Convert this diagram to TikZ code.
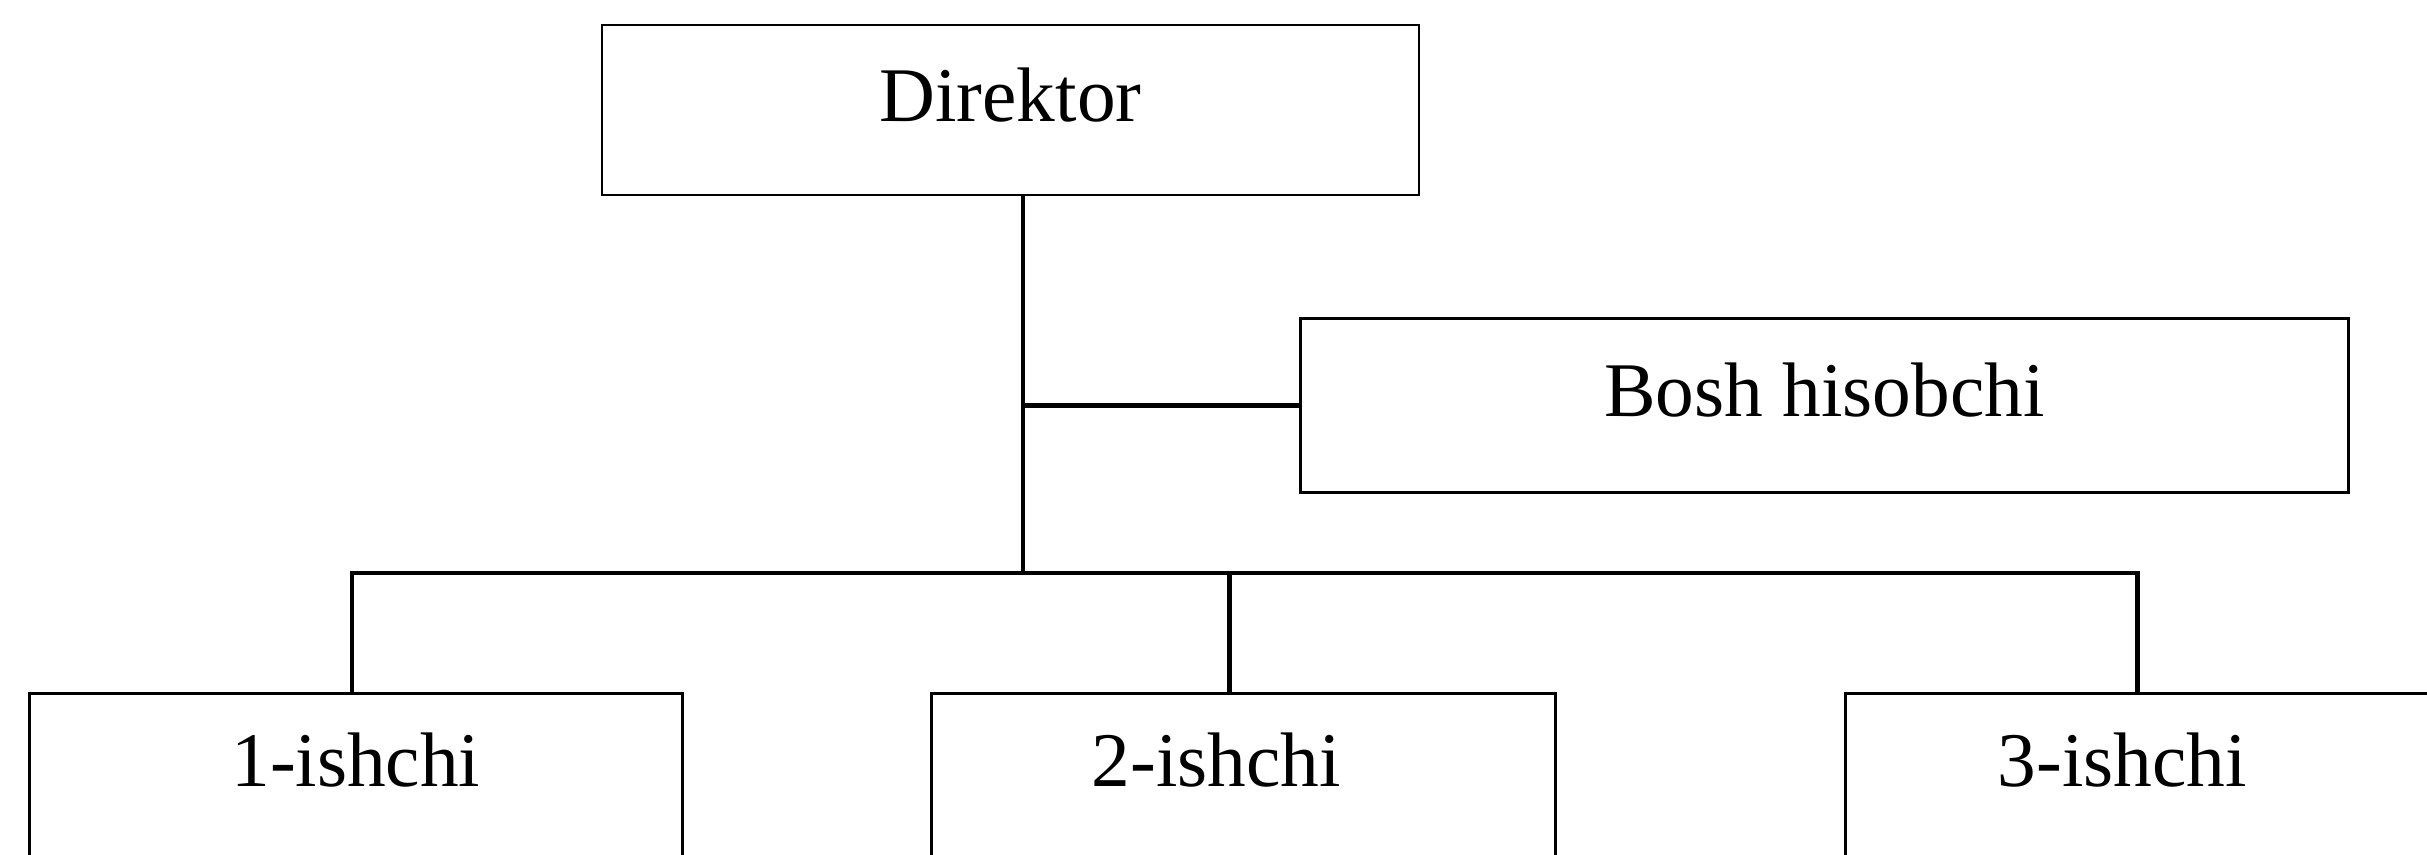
\documentclass[tikz,border=0pt]{standalone}
\usepackage{fontspec}
\setmainfont{Liberation Serif}
\usetikzlibrary{positioning}

\begin{document}
\begin{tikzpicture}[
  font=\fontsize{22}{26}\selectfont,
  every node/.style={align=center},
  boss/.style   ={rectangle, draw=black, line width=0.8pt, inner ysep=0pt,
                  minimum width=81.7mm, text height=9.6mm, text depth=7.4mm},
  acct/.style   ={rectangle, draw=black, line width=0.8pt, inner ysep=0pt,
                  minimum width=104.8mm, text height=9.8mm, text depth=7.6mm},
  worker/.style ={rectangle, draw=black, line width=0.8pt, inner ysep=0pt,
                  text height=9.3mm, text depth=12mm},
  link/.style   ={draw=black, line width=1.2pt},
]
\useasboundingbox (0,0) rectangle (24.27,-8.54);
\clip (0,0) rectangle (24.27,-8.54);

% --- Rahbar ---
\node[boss] (dir) at (10.105,-1.10) {Direktor};

% --- Bosh hisobchi ---
\node[acct, anchor=north west] (bosh) at (12.99,-3.17) {Bosh hisobchi};

% --- Ishchilar ---
\node[worker, minimum width=65.3mm, anchor=north west] (w1) at (0.28,-6.92) {1-ishchi};
\node[worker, minimum width=62.4mm, anchor=north west] (w2) at (9.30,-6.92) {2-ishchi\hspace*{5.4mm}};
\node[worker, minimum width=59.0mm, anchor=north west] (w3) at (18.44,-6.92) {3-ishchi\hspace*{3.6mm}};

% --- Bog'lanishlar ---
\coordinate (trunk) at ([xshift=1.25mm]dir.south);
\coordinate (hub)   at (trunk |- 0,-5.73);
\coordinate (d1)    at ([xshift=-0.4mm]w1.north);
\coordinate (d2)    at ([xshift=-1.4mm]w2.north);
\coordinate (d3)    at ([xshift=-0.3mm]w3.north);
\draw[link] (trunk) -- (hub);
\draw[link] (trunk |- bosh.west) -- (bosh.west);
\draw[link] (d1) |- (hub) -| (d3);
\draw[link] (hub) -| (d2);

\end{tikzpicture}
\end{document}
